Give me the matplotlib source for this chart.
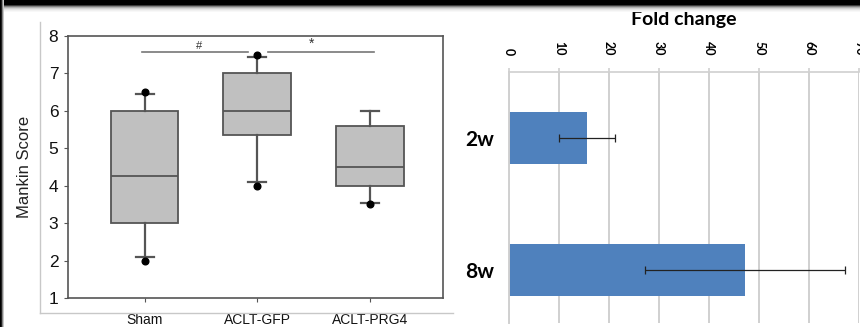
import numpy as np
import matplotlib
matplotlib.use('Agg')
import matplotlib.pyplot as plt
from matplotlib.patches import Rectangle
from matplotlib.lines import Line2D

# left panel: box plot of Mankin score
groups = ['Sham', 'ACLT-GFP', 'ACLT-PRG4']
q1 = [3.0, 5.35, 4.0]
med = [4.25, 6.0, 4.5]
q3 = [6.0, 7.0, 5.6]
whis_lo = [2.1, 4.1, 3.55]
whis_hi = [6.45, 7.45, 6.0]
fliers = [[2.0, 6.5], [4.0, 7.5], [3.5]]
score_ticks = [1, 2, 3, 4, 5, 6, 7, 8]
sig_marks = ['#', '*']
sig_pairs = [(1, 2), (2, 3)]
sig_y = 7.56

# right panel: fold change bars
weeks = ['2w', '8w']
fold = [15.5, 47.1]
fold_err = [5.6, 20.0]
fold_ticks = [0, 10, 20, 30, 40, 50, 60, 70]

W, H = 860, 327
fig = plt.figure(figsize=(W / 100, H / 100), dpi=100)

def px(x0, y0, x1, y1):
    return [x0 / W, 1 - y1 / H, (x1 - x0) / W, (y1 - y0) / H]

# screenshot artifacts: dark band on top, thin dark edge on the left
for i, c in enumerate(['#000000'] * 5 + ['#3a3a3a', '#808080', '#b0b0b0', '#d0d0d0', '#e4e4e4', '#f0f0f0', '#f8f8f8']):
    fig.patches.append(Rectangle((0, 1 - (i + 1) / H), 1, 1 / H, transform=fig.transFigure,
                                 facecolor=c, edgecolor='none', zorder=0))
for i, c in enumerate(['#000000', '#202020', '#808080', '#c8c8c8']):
    fig.patches.append(Rectangle((i / W, 0), 1 / W, 1, transform=fig.transFigure,
                                 facecolor=c, edgecolor='none', zorder=0))

# outer frame of the left panel
fig.lines.append(Line2D([40 / W, 40 / W], [1 - 22 / H, 1 - 313 / H], transform=fig.transFigure,
                        color='#c8c8c8', lw=1))
fig.lines.append(Line2D([40 / W, 453 / W], [1 - 313 / H, 1 - 313 / H], transform=fig.transFigure,
                        color='#c8c8c8', lw=1))

ax = fig.add_axes(px(68, 36, 443, 298))
stats = []
for i in range(len(groups)):
    stats.append(dict(med=med[i], q1=q1[i], q3=q3[i], whislo=whis_lo[i], whishi=whis_hi[i],
                      fliers=fliers[i], label=groups[i]))
edge = '#555555'
ax.bxp(stats, positions=[1, 2, 3], widths=0.6, patch_artist=True, capwidths=0.16,
       boxprops=dict(facecolor='#c0c0c0', edgecolor=edge, linewidth=1.3),
       medianprops=dict(color=edge, linewidth=1.3),
       whiskerprops=dict(color=edge, linewidth=1.6),
       capprops=dict(color=edge, linewidth=1.6),
       flierprops=dict(marker='o', markerfacecolor='black', markeredgecolor='black', markersize=4.8))
ax.set_xlim(0.32, 3.65)
ax.set_ylim(1, 8)
ax.set_yticks(score_ticks)
ax.tick_params(axis='y', labelsize=12.5, direction='out', length=3, color=edge, pad=4, labelcolor='#111111')
ax.tick_params(axis='x', labelsize=10, direction='out', length=3, color=edge, pad=8, labelcolor='#111111')
for lab in ax.get_xticklabels() + ax.get_yticklabels():
    lab.set_fontfamily('Liberation Sans')
for s in ax.spines.values():
    s.set_color(edge)
    s.set_linewidth(1.2)
ax.set_ylabel('Mankin Score', fontsize=12, family='Liberation Sans', labelpad=12, color='#222222')

for (a, b), mark in zip(sig_pairs, sig_marks):
    ax.plot([a - 0.02, b - 0.08] if a == 1 else [a + 0.1, b + 0.04], [sig_y, sig_y], color='#777777', lw=1.2)
    ax.text((a + b) / 2 - 0.02, sig_y + 0.04, mark, ha='center', va='bottom',
            fontsize=8 if mark == '#' else 10, family='Liberation Sans', color='#333333')

# right panel
bx = fig.add_axes(px(509, 72, 859, 323))
bx.set_axisbelow(True)
bx.barh(range(len(weeks)), fold, height=0.39, color='#4f81bd', zorder=2)
bx.errorbar(fold, range(len(weeks)), xerr=fold_err, fmt='none', ecolor='#222222',
            elinewidth=0.9, capsize=3, capthick=0.9, zorder=3)
bx.set_xlim(0, 70)
bx.set_ylim(1.4, -0.5)
bx.set_xticks(fold_ticks)
bx.xaxis.tick_top()
bx.xaxis.set_label_position('top')
bx.grid(axis='x', color='#d0d0d0', lw=1.4)
bx.tick_params(axis='x', direction='out', length=3, color='#d0d0d0', width=1.2, pad=9, labelsize=9)
for lab in bx.get_xticklabels():
    lab.set_rotation(-90)
    lab.set_fontweight('bold')
    lab.set_fontfamily('Lato')
bx.set_yticks(range(len(weeks)))
bx.set_yticklabels(weeks, fontsize=15, fontweight='bold', family='Lato')
bx.tick_params(axis='y', length=0, pad=11)
for k in ['right', 'bottom']:
    bx.spines[k].set_visible(False)
bx.spines['top'].set_color('#d0d0d0')
bx.spines['left'].set_color('#d0d0d0')
bx.spines['top'].set_linewidth(1.2)
bx.spines['left'].set_linewidth(1.4)
bx.set_xlabel('Fold change', fontsize=14, fontweight='bold', family='Lato', labelpad=11)

fig.savefig('out.png', dpi=100)
